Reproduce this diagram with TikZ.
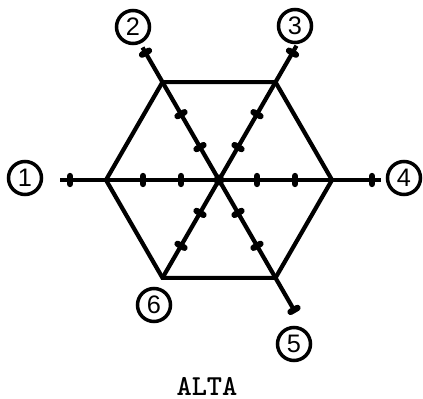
\documentclass[tikz,border=0pt]{standalone}
\usepackage{fontspec}
\setsansfont{Liberation Sans}
\begin{document}
\begin{tikzpicture}[x=0.02cm,y=0.02cm,line width=2.4pt,
  num/.style={draw,circle,line width=2pt,inner sep=0pt,minimum size=0.66cm,font=\sffamily\Large},
  tick/.style={line width=3.6pt,line cap=round}]
\useasboundingbox (-219,-219) rectangle (204,180);
\coordinate (c) at (0,0);
\foreach \i/\a in {1/180,2/120,3/60,4/0,5/300,6/240} \coordinate (v\i) at (\a:113);
\foreach \i/\a/\r in {1/180/159,2/120/153,3/60/155,4/0/162,5/300/152} \coordinate (e\i) at (\a:\r);
\draw (v1) -- (v2) -- (v3) -- (v4) -- (v5) -- (v6) -- cycle;
\foreach \i in {1,...,5} \draw (c) -- (e\i);
\draw (c) -- (v6);
\fill (c) circle (5.5);
\foreach \a in {0,60,...,300} \foreach \r in {38,76} \draw[tick] (\a:\r) ++(\a+90:4) -- ++(\a-90:8);
\foreach \a/\r in {180/149,120/147,60/147,0/153,300/150} \draw[tick] (\a:\r) ++(\a+90:4) -- ++(\a-90:8);
\node[num] (n1) at (-194,2) {1};
\node[num] (n2) at (-86,153) {2};
\node[num] (n3) at (76,154) {3};
\node[num] (n4) at (185,2) {4};
\node[num] (n5) at (75,-164) {5};
\node[num] (n6) at (-65,-125) {6};
\node[font=\ttfamily\bfseries\fontsize{16.5}{18}\selectfont] (alta) at (-12,-206) {ALTA};
\end{tikzpicture}
\end{document}
